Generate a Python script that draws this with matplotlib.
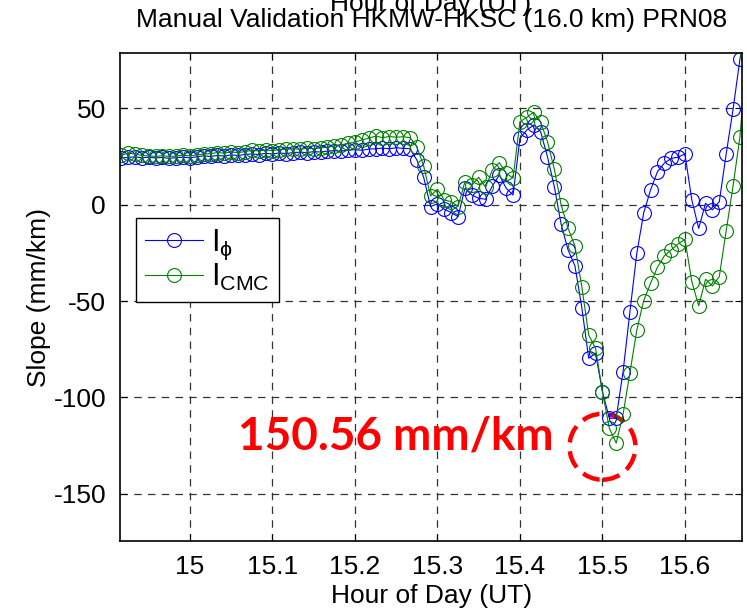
import numpy as np
import matplotlib
matplotlib.use('Agg')
import matplotlib.pyplot as plt
from matplotlib.patches import Ellipse

plt.rcParams['font.family'] = ['Liberation Sans', 'DejaVu Sans']
plt.rcParams['mathtext.fontset'] = 'custom'
plt.rcParams['mathtext.rm'] = 'Liberation Sans'
plt.rcParams['mathtext.it'] = 'Liberation Sans'
plt.rcParams['axes.unicode_minus'] = False

# 30 s epochs from 14:55 UT
t_start = 14 + 55 / 60
dt = 30 / 3600

# slope from phase (I_phi)
slope_phi = [
    24.2, 24.5, 24.8, 24.3, 24.6, 24.2, 24.5, 24.0, 24.4, 24.6,
    24.3, 24.8, 25.3, 25.0, 25.5, 25.2, 25.8, 25.5, 26.0, 26.3,
    26.0, 26.6, 26.3, 26.8, 26.5, 27.0, 27.2, 27.0, 27.5, 27.3,
    27.8, 28.0, 27.8, 28.3, 28.5, 28.2, 28.8, 29.0, 29.3, 29.0,
    29.5, 29.2, 29.0, 23.2, 14.2, -1.0, 0.4, -2.4, -4.1, -6.2,
    8.5, 5.0, 3.3, 2.8, 9.7, 15.4, 8.5, 5.0, 34.4, 38.7,
    41.3, 37.9, 24.9, 9.3, -10.3, -23.5, -31.8, -53.4, -79.7, -77.1,
    -97.0, -110.8, -110.8, -86.6, -55.5, -25.2, -4.3, 7.6, 17.1, 21.5,
    24.0, 24.6, 26.3, 2.4, -12.3, 0.7, -2.7, 1.6, 26.3, 49.5,
    75.5, 101.0,
]

# slope from code-minus-carrier (I_CMC)
slope_cmc = [
    25.5, 26.8, 26.2, 25.5, 25.3, 25.0, 25.4, 25.0, 25.2, 25.6,
    25.3, 25.8, 26.2, 26.5, 27.0, 26.7, 27.3, 27.0, 27.5, 28.2,
    27.8, 28.4, 28.0, 28.6, 28.8, 29.0, 28.8, 29.2, 29.0, 29.4,
    29.8, 30.5, 31.0, 31.8, 32.5, 33.5, 34.5, 35.5, 34.8, 35.3,
    35.0, 35.2, 34.8, 30.1, 20.0, 4.5, 8.0, 2.4, 1.6, -1.0,
    11.9, 10.0, 14.2, 9.0, 18.0, 21.8, 16.3, 13.7, 43.0, 45.3,
    47.9, 43.0, 32.7, 18.4, -0.2, -12.3, -21.4, -42.5, -67.6, -74.5,
    -97.0, -116.0, -123.7, -108.7, -87.1, -65.0, -49.8, -40.8, -32.5, -26.6,
    -23.5, -20.4, -18.0, -39.9, -52.5, -38.7, -42.2, -37.3, -13.5, 9.7,
    35.3, 78.0,
]

hours = t_start + dt * np.arange(len(slope_phi))

xticks = [15.0, 15.1, 15.2, 15.3, 15.4, 15.5, 15.6]
xtick_labels = ['15', '15.1', '15.2', '15.3', '15.4', '15.5', '15.6']
yticks = [-150, -100, -50, 0, 50]

fig = plt.figure(figsize=(7.47, 6.1), dpi=100)
ax = fig.add_axes([0.1606, 0.1131, 0.8333, 0.7995])

ax.plot(hours, slope_phi, '-o', color='#0000ff', lw=0.8, ms=10,
        mfc='none', mec='#0000ff', mew=0.8, label=r'$\mathrm{I_{\phi}}$')
ax.plot(hours, slope_cmc, '-o', color='#008000', lw=0.8, ms=10,
        mfc='none', mec='#008000', mew=0.8, label=r'$\mathrm{I_{CMC}}$')

ax.set_xlim(14.9152, 15.6697)
ax.set_ylim(-174.5, 78.5)
ax.set_xticks(xticks)
ax.set_xticklabels(xtick_labels)
ax.set_yticks(yticks)
ax.tick_params(direction='in', length=5, labelsize=19, top=True, right=True,
               pad=10)
ax.grid(True, color='0.2', linestyle=(0, (6, 5)), lw=0.9)
for s in ax.spines.values():
    s.set_linewidth(1.2)

ax.set_xlabel('Hour of Day (UT)', fontsize=19, labelpad=4)
ax.set_ylabel('Slope (mm/km)', fontsize=19, labelpad=2)
ax.set_title('Manual Validation HKMW-HKSC (16.0 km) PRN08', fontsize=19,
             pad=19)
# stray label left over at the top of the original figure
fig.text(0.577, 0.993, 'Hour of Day (UT)', fontsize=19, ha='center',
         va='center')

leg = ax.legend(loc='upper left', bbox_to_anchor=(0.026, 0.662),
                borderaxespad=0, fontsize=22, handlelength=1.9,
                handletextpad=0.25, fancybox=False, framealpha=1,
                edgecolor='black', borderpad=0.3, labelspacing=0.0)
leg.get_frame().set_linewidth(1.0)

# highlight of the minimum
ax.text(15.2497, -120.5, '150.56 mm/km', color='#ff0000', fontsize=33,
        fontweight='bold', family='Lato', ha='center', va='center')
ax.add_patch(Ellipse((15.5, -125.6), 0.08, 34.2, fill=False,
                     edgecolor='#ff0000', lw=3.2, linestyle=(0, (4, 2))))

fig.savefig('out.png', dpi=100)
